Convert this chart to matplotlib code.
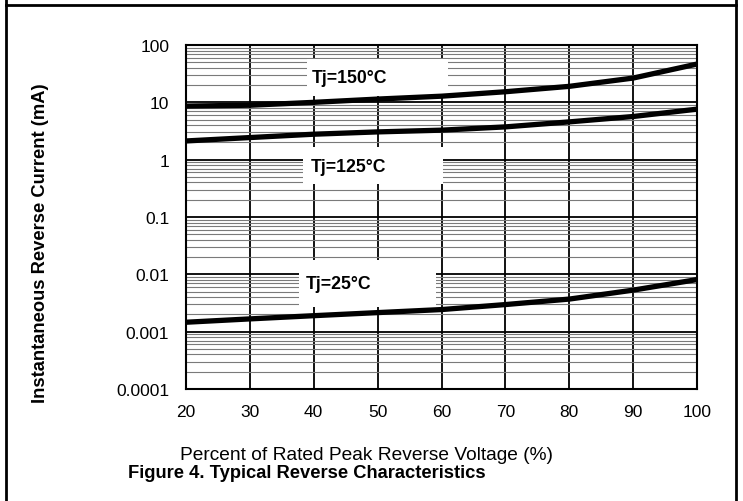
import numpy as np
import matplotlib.pyplot as plt
from matplotlib.patches import Rectangle
from matplotlib.lines import Line2D

plt.rcParams['font.family'] = ['Liberation Sans', 'DejaVu Sans']

# percent of rated peak reverse voltage
volt_pct = [20, 30, 40, 50, 60, 70, 80, 90, 100]

# reverse current (mA)
i_150 = [8.6, 8.9, 10.0, 11.4, 12.8, 15.3, 19.0, 26.5, 46.5]
i_125 = [2.12, 2.43, 2.78, 3.05, 3.27, 3.73, 4.56, 5.66, 7.6]
i_25 = [0.00146, 0.00167, 0.0019, 0.00215, 0.00243, 0.00297, 0.0037, 0.0053, 0.0081]

curve_labels = ['Tj=150\u00b0C', 'Tj=125\u00b0C', 'Tj=25\u00b0C']
# label position (x, y) and white box (x0, x1, y0, y1) in data units
label_pos = [(39.7, 27.5), (39.5, 0.76), (38.8, 0.0069)]
label_box = [(38.9, 61.0, 12.8, 57.0),
             (38.3, 60.2, 0.37, 1.64),
             (37.7, 59.1, 0.00272, 0.0181)]

x_ticks = [20, 30, 40, 50, 60, 70, 80, 90, 100]
y_ticks = [0.0001, 0.001, 0.01, 0.1, 1, 10, 100]
y_ticklabels = ['0.0001', '0.001', '0.01', '0.1', '1', '10', '100']

W, H = 743, 502
fig = plt.figure(figsize=(W / 100, H / 100), dpi=100)
ax = fig.add_axes([186 / W, (H - 390) / H, (697 - 186) / W, (390 - 46) / H])

ax.set_yscale('log')
ax.set_xlim(20, 100)
ax.set_ylim(0.0001, 100)
ax.set_axisbelow(True)

ax.grid(which='major', axis='both', color='black', linewidth=1.3)
ax.grid(which='minor', axis='y', color='#7a7a7a', linewidth=0.8)
ax.set_xticks(x_ticks)
ax.set_yticks(y_ticks)
ax.set_yticklabels(y_ticklabels)
ax.tick_params(which='both', length=0, labelsize=12.5)
ax.tick_params(axis='x', pad=11)
ax.tick_params(axis='y', pad=12)
for sp in ax.spines.values():
    sp.set_linewidth(1.5)

for (x0, x1, y0, y1) in label_box:
    ax.add_patch(Rectangle((x0, y0), x1 - x0, y1 - y0, facecolor='white',
                           edgecolor='none', zorder=1))

for ys in (i_150, i_125, i_25):
    ax.plot(volt_pct, ys, color='black', linewidth=3.8, zorder=2,
            solid_capstyle='butt')

for txt, (tx, ty) in zip(curve_labels, label_pos):
    ax.text(tx, ty, txt, fontsize=12.7, fontweight='bold', va='center',
            ha='left', zorder=3)

fig.text(41 / W, 1 - 243 / H, 'Instantaneous Reverse Current (mA)',
         fontsize=13.2, fontweight='bold', rotation=90,
         ha='center', va='center')
# x label and caption sit tight against each other, as in the reference
fig.text(367 / W, 1 - 464 / H, 'Percent of Rated Peak Reverse Voltage (%)',
         fontsize=13.8, ha='center', va='bottom')
fig.text(307 / W, 1 - 465 / H, 'Figure 4. Typical Reverse Characteristics',
         fontsize=13.2, fontweight='bold', ha='center', va='top')

# table cell frame around the figure
fig.add_artist(Line2D([6 / W, 6 / W], [0, 1], color='black', linewidth=2))
fig.add_artist(Line2D([736 / W, 736 / W], [0, 1], color='black', linewidth=2))
fig.add_artist(Line2D([6 / W, 736 / W], [1 - 6 / H, 1 - 6 / H], color='black', linewidth=2))

fig.savefig('out.png', dpi=100)
